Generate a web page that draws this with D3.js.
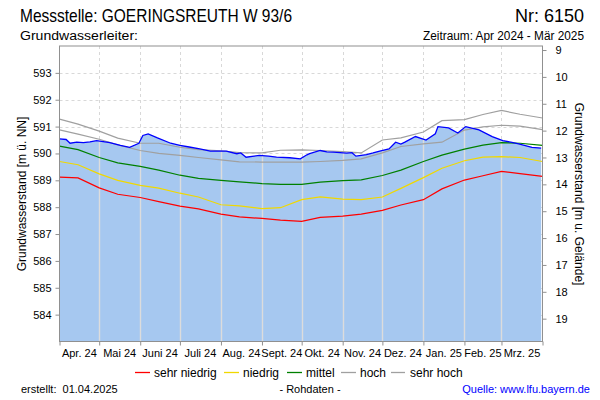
<!DOCTYPE html>
<html><head><meta charset="utf-8">
<script src="https://cdn.jsdelivr.net/npm/d3@7"></script>
<style>
html,body{margin:0;padding:0;background:#fff;}
svg{display:block;}
text{font-family:"Liberation Sans",Arial,sans-serif;fill:#000;}
.narrow{font-family:"Liberation Sans Narrow","Arial Narrow","Liberation Sans",Arial,sans-serif;}
</style></head>
<body>
<svg id="c" width="600" height="400"></svg>
<script>
// ---- data ----
const monthLabels = ["Apr. 24","Mai 24","Juni 24","Juli 24","Aug. 24","Sept. 24","Okt. 24","Nov. 24","Dez. 24","Jan. 25","Feb. 25","Mrz. 25"];
const leftTicks = [584,585,586,587,588,589,590,591,592,593];
const rightTicks = [9,10,11,12,13,14,15,16,17,18,19];
const groundLevel = 602.85;

const statDates = ["2024-04-01","2024-04-15","2024-05-01","2024-05-15","2024-06-01","2024-06-15","2024-07-01","2024-07-15","2024-08-01","2024-08-15","2024-09-01","2024-09-15","2024-10-01","2024-10-15","2024-11-01","2024-11-15","2024-12-01","2024-12-15","2025-01-01","2025-01-15","2025-02-01","2025-02-15","2025-03-01","2025-03-15","2025-04-01"];
const sehrNiedrig = [589.12,589.09,588.72,588.48,588.36,588.21,588.04,587.94,587.74,587.64,587.58,587.52,587.47,587.62,587.67,587.74,587.88,588.08,588.28,588.68,589.01,589.17,589.33,589.25,589.15];
const niedrig     = [589.70,589.58,589.24,589.00,588.81,588.71,588.52,588.38,588.09,588.05,587.95,587.98,588.28,588.38,588.30,588.28,588.38,588.70,589.10,589.45,589.73,589.86,589.88,589.85,589.70];
const mittel      = [590.27,590.14,589.85,589.65,589.52,589.38,589.19,589.07,589.00,588.94,588.88,588.85,588.85,588.93,588.99,589.02,589.18,589.38,589.70,589.94,590.16,590.31,590.40,590.38,590.30];
const hoch        = [590.88,590.72,590.53,590.32,590.11,590.00,589.93,589.85,589.76,589.69,589.68,589.68,589.68,589.70,589.74,589.80,590.02,590.26,590.36,590.42,590.87,590.99,591.05,591.02,590.89];
const sehrHoch    = [591.28,591.09,590.83,590.57,590.38,590.38,590.23,590.14,590.10,590.03,590.02,590.12,590.13,590.11,590.07,590.02,590.50,590.58,590.80,591.22,591.26,591.45,591.60,591.46,591.32];

const messDates = ["2024-04-01","2024-04-06","2024-04-09","2024-04-14","2024-04-19","2024-04-24","2024-04-29","2024-05-04","2024-05-09","2024-05-17","2024-05-24","2024-05-31","2024-06-03","2024-06-07","2024-06-14","2024-06-24","2024-07-01","2024-07-08","2024-07-16","2024-07-24","2024-08-05","2024-08-13","2024-08-16","2024-08-20","2024-08-30","2024-09-06","2024-09-12","2024-09-22","2024-09-30","2024-10-05","2024-10-07","2024-10-15","2024-10-20","2024-10-25","2024-11-04","2024-11-08","2024-11-11","2024-11-19","2024-11-24","2024-11-29","2024-12-06","2024-12-11","2024-12-15","2024-12-18","2024-12-26","2025-01-03","2025-01-10","2025-01-12","2025-01-20","2025-01-27","2025-02-02","2025-02-12","2025-02-22","2025-03-02","2025-03-08","2025-03-14","2025-03-24","2025-03-31"];
const messValues = [590.54,590.52,590.38,590.42,590.40,590.43,590.48,590.44,590.40,590.30,590.23,590.38,590.67,590.73,590.58,590.38,590.30,590.24,590.17,590.09,590.09,589.99,590.02,589.86,589.93,589.90,589.86,589.84,589.80,589.95,589.99,590.11,590.06,590.05,590.01,590.03,589.90,589.96,590.02,590.09,590.17,590.42,590.35,590.42,590.63,590.50,590.73,591.00,590.95,590.76,591.00,590.88,590.63,590.48,590.42,590.36,590.23,590.20];

// ---- layout ----
const svg = d3.select("#c");
const L = 59.5, R = 542.5, T = 46, B = 341.5;
const parse = d3.timeParse("%Y-%m-%d");
const x = d3.scaleTime().domain([parse("2024-04-01"), parse("2025-04-01")]).range([L, R]);
const y = d3.scaleLinear().domain([583, 594]).range([B, T]);
const yr = d3.scaleLinear().domain([groundLevel-583, groundLevel-594]).range([B, T]);

const months = d3.timeMonth.range(parse("2024-04-01"), parse("2025-04-02"));

// horizontal dashed grid
svg.append("g").selectAll("line").data(leftTicks).join("line")
  .attr("x1", L).attr("x2", R).attr("y1", d=>Math.round(y(d))+0.5).attr("y2", d=>Math.round(y(d))+0.5)
  .attr("stroke", "#d8d8d8").attr("stroke-dasharray", "3,3");
// vertical dashed grid
const innerMonths = months.slice(1, months.length-1);
svg.append("g").selectAll("line").data(innerMonths).join("line")
  .attr("x1", d=>Math.round(x(d))+0.5).attr("x2", d=>Math.round(x(d))+0.5).attr("y1", T).attr("y2", B)
  .attr("stroke", "#d8d8d8").attr("stroke-dasharray", "3,3");

const mess = messDates.map((d,i)=>({d:parse(d), v:messValues[i]}));
const area = d3.area().x(p=>x(p.d)).y0(B).y1(p=>y(p.v));
svg.append("path").datum(mess).attr("d", area).attr("fill", "#a6c8f0");

// solid light grid within area
svg.append("clipPath").attr("id","ac").append("path").datum(mess).attr("d", area);
svg.append("g").attr("clip-path","url(#ac)").selectAll("line").data(innerMonths).join("line")
  .attr("x1", d=>Math.round(x(d))+0.5).attr("x2", d=>Math.round(x(d))+0.5).attr("y1", T).attr("y2", B)
  .attr("stroke", "#dcdcdc").attr("stroke-width", 1.4);

const line = d3.line().x(p=>x(p.d)).y(p=>y(p.v));
const series = [
  {vals:sehrHoch, color:"#a0a0a0"},
  {vals:hoch, color:"#a0a0a0"},
  {vals:mittel, color:"#008000"},
  {vals:niedrig, color:"#f0d800"},
  {vals:sehrNiedrig, color:"#ff0000"}
];
series.forEach(s=>{
  const pts = statDates.map((d,i)=>({d:parse(d), v:s.vals[i]}));
  svg.append("path").datum(pts).attr("d", line).attr("fill","none").attr("stroke", s.color).attr("stroke-width", 1.2);
});
svg.append("path").datum(mess).attr("d", line).attr("fill","none").attr("stroke","#0000ff").attr("stroke-width",1.3);

// frame
svg.append("rect").attr("x", L).attr("y", T).attr("width", R-L).attr("height", B-T)
  .attr("fill","none").attr("stroke","#909090");

// axes
const styleAxis = g => { g.select(".domain").remove(); g.selectAll(".tick line").attr("stroke","#909090"); g.selectAll("text").attr("font-size", 11).attr("font-family","Liberation Sans, Arial, sans-serif").attr("fill","#000"); };
svg.append("g").attr("transform", `translate(${L},0)`)
  .call(d3.axisLeft(y).tickValues(leftTicks).tickSize(4).tickPadding(4).tickFormat(d3.format("d"))).call(styleAxis);
svg.append("g").attr("transform", `translate(${R},0)`)
  .call(d3.axisRight(yr).tickValues(rightTicks).tickSize(4).tickPadding(9).tickFormat(d3.format("d"))).call(styleAxis);
svg.append("g").attr("transform", `translate(0,${B})`)
  .call(d3.axisBottom(x).tickValues(months).tickSize(4).tickFormat("")).call(styleAxis);
// month labels, centred in each month
svg.append("g").selectAll("text").data(months.slice(0,12)).join("text")
  .attr("x", (d,i)=>(x(d)+x(months[i+1]))/2).attr("y", 357).attr("text-anchor","middle")
  .attr("font-size", 11).text((d,i)=>monthLabels[i]);

// axis titles
svg.append("text").attr("transform","translate(26,194) rotate(-90)").attr("text-anchor","middle")
  .attr("font-size",12).text("Grundwasserstand [m ü. NN]");
svg.append("text").attr("transform","translate(575,194) rotate(90)").attr("text-anchor","middle")
  .attr("font-size",12).text("Grundwasserstand [m u. Gelände]");

// header
svg.append("text").attr("class","narrow").attr("x",20).attr("y",22).attr("font-size",18.6)
  .attr("textLength",272).attr("lengthAdjust","spacingAndGlyphs").text("Messstelle: GOERINGSREUTH W 93/6");
svg.append("text").attr("class","narrow").attr("x",515).attr("y",22).attr("font-size",18.6)
  .attr("textLength",69).attr("lengthAdjust","spacingAndGlyphs").text("Nr: 6150");
svg.append("text").attr("class","narrow").attr("x",20).attr("y",40).attr("font-size",12.5)
  .attr("textLength",118).attr("lengthAdjust","spacingAndGlyphs").text("Grundwasserleiter:");
svg.append("text").attr("class","narrow").attr("x",423).attr("y",40).attr("font-size",12.5)
  .attr("textLength",161).attr("lengthAdjust","spacingAndGlyphs").text("Zeitraum: Apr 2024 - Mär 2025");

// legend
const legend = [
  {label:"sehr niedrig", color:"#ff0000", x1:135, x2:150, tx:154},
  {label:"niedrig", color:"#f0d800", x1:224, x2:239, tx:243},
  {label:"mittel", color:"#008000", x1:287, x2:302, tx:306},
  {label:"hoch", color:"#a0a0a0", x1:341, x2:356, tx:360},
  {label:"sehr hoch", color:"#a0a0a0", x1:391, x2:405, tx:410}
];
const lg = svg.append("g");
legend.forEach(l=>{
  lg.append("line").attr("x1",l.x1).attr("x2",l.x2).attr("y1",372.5).attr("y2",372.5).attr("stroke",l.color).attr("stroke-width",1.3);
  lg.append("text").attr("x",l.tx).attr("y",377).attr("font-size",12).text(l.label);
});

// footer
svg.append("text").attr("x",21).attr("y",393).attr("font-size",11).attr("xml:space","preserve").text("erstellt:  01.04.2025");
svg.append("text").attr("x",310).attr("y",393).attr("font-size",11).attr("text-anchor","middle").text("- Rohdaten -");
svg.append("text").attr("x",590).attr("y",393).attr("font-size",11).attr("text-anchor","end").attr("fill","#0000ff")
  .style("fill","#0000ff").text("Quelle: www.lfu.bayern.de");
</script>
</body></html>
